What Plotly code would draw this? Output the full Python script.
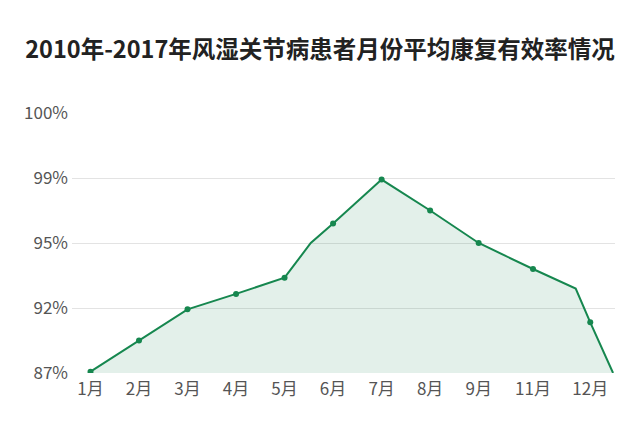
import numpy as np
import plotly.graph_objects as go

# y axis labels are evenly spaced although their values are not
Y_TICKS = [87, 92, 95, 99, 100]
Y_TICK_TEXT = ["87%", "92%", "95%", "99%", "100%"]

MONTHS = ["1月", "2月", "3月", "4月", "5月", "6月", "7月", "8月", "9月", "11月", "12月"]
MONTH_POS = [1, 2, 3, 4, 5, 6, 7, 8, 9, 10.12, 11.3]

# line vertices (some of them without a marker)
LINE_X = [1, 2, 3, 4, 5, 5.54, 6, 7, 8, 9, 10.12, 11.0, 11.3, 11.77]
LINE_Y = [87.1, 89.5, 91.9, 92.65, 93.4, 95.0, 96.2, 98.9, 97.0, 95.0, 93.8, 92.9, 90.9, 87.0]
HAS_MARKER = [1, 1, 1, 1, 1, 0, 1, 1, 1, 1, 1, 0, 1, 0]

GREEN = "#16874f"


def to_axis(v):
    return np.interp(v, Y_TICKS, range(len(Y_TICKS)))


y_axis = to_axis(LINE_Y)
mx = [x for x, m in zip(LINE_X, HAS_MARKER) if m]
my = [y for y, m in zip(y_axis, HAS_MARKER) if m]

fig = go.Figure()
fig.add_trace(go.Scatter(
    x=LINE_X, y=y_axis, mode="lines", fill="tozeroy",
    fillcolor="rgba(22,135,79,0.12)",
    line=dict(color=GREEN, width=2),
    hoverinfo="skip",
))
fig.add_trace(go.Scatter(
    x=mx, y=my, mode="markers",
    marker=dict(color=GREEN, size=6),
))

# page body adds 8px offset, so margins are shifted by that
fig.update_layout(
    width=640, height=426,
    margin=dict(l=64, r=33, t=105, b=61),
    paper_bgcolor="white", plot_bgcolor="white",
    showlegend=False,
    font=dict(family="Noto Sans CJK SC", color="#555555", size=17),
    title=dict(
        text="<b>2010年-2017年风湿关节病患者月份平均康复有效率情况</b>",
        x=312 / 640, xanchor="center", y=1 - 42 / 426, yanchor="middle",
        font=dict(size=23.5, color="#222222", family="Noto Sans CJK SC"),
    ),
    xaxis=dict(
        range=[0.619, 11.81],
        tickvals=MONTH_POS, ticktext=MONTHS,
        showgrid=False, zeroline=False, showline=False,
        ticks="", ticklabelstandoff=4,
    ),
    yaxis=dict(
        range=[0, 4],
        tickvals=list(range(len(Y_TICKS))), ticktext=Y_TICK_TEXT,
        showgrid=True, gridcolor="#e3e3e3", gridwidth=1,
        zeroline=False, showline=False, ticks="", ticklabelstandoff=3,
    ),
)

fig.write_html("out.html")
